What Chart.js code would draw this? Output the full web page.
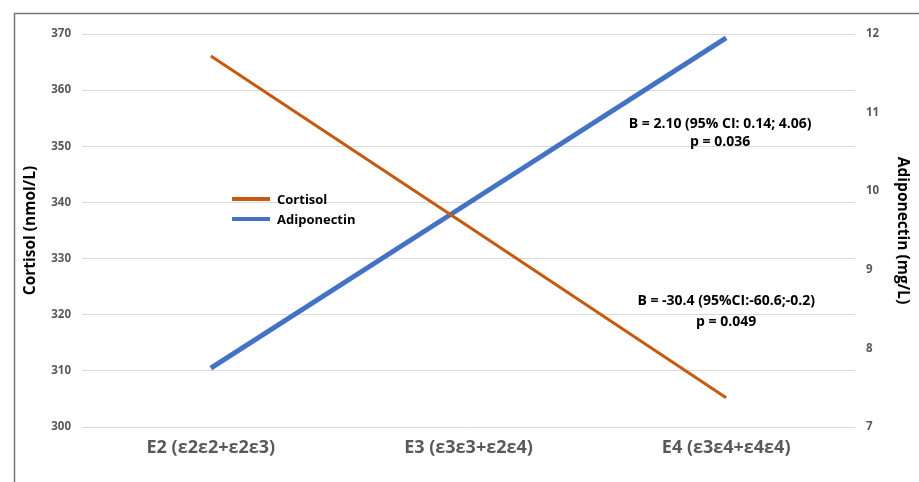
<!DOCTYPE html>
<html>
<head>
<meta charset="utf-8">
<script src="https://cdn.jsdelivr.net/npm/chart.js@4.4.1/dist/chart.umd.min.js"></script>
<style>
  html, body { margin: 0; padding: 0; background: #fff; }
  canvas { display: block; }
</style>
</head>
<body>
<canvas id="chart" width="919" height="482"></canvas>
<script>
const categories = ['E2 (ε2ε2+ε2ε3)', 'E3 (ε3ε3+ε2ε4)', 'E4 (ε3ε4+ε4ε4)'];
const cortisol = [366.1, 335.7, 305.2];
const adiponectin = [7.75, 9.85, 11.95];
const cortisolRange = [300, 370];
const adiponectinRange = [7, 12];
const adiponectinNote = ['B = 2.10 (95% CI: 0.14; 4.06)', 'p = 0.036'];
const cortisolNote = ['B = -30.4 (95%CI:-60.6;-0.2)', 'p = 0.049'];

const orange = '#C55A11';
const blue = '#4472C4';
const grey = '#595959';

// frame round the figure (left and top edges only)
const frame = {
  id: 'frame',
  beforeDraw(chart) {
    const c = chart.ctx;
    c.save();
    c.strokeStyle = '#767676';
    c.lineWidth = 1.5;
    c.beginPath();
    c.moveTo(14.5, 482);
    c.lineTo(14.5, 13.5);
    c.lineTo(919, 13.5);
    c.stroke();
    c.restore();
  }
};

// legend in the middle left + the two B/p notes
const notes = {
  id: 'notes',
  afterDraw(chart) {
    const c = chart.ctx;
    const x = chart.scales.x;
    const yL = chart.scales.y;
    c.save();
    c.font = 'bold 13px "Open Sans", sans-serif';
    c.textBaseline = 'middle';

    chart.data.datasets.forEach((ds, i) => {
      const ly = 199 + i * 20;
      c.strokeStyle = ds.borderColor;
      c.lineWidth = 4;
      c.beginPath();
      c.moveTo(232, ly);
      c.lineTo(270, ly);
      c.stroke();
      c.fillStyle = '#000';
      c.textAlign = 'left';
      c.fillText(ds.label, 277, ly + 1);
    });

    c.font = 'bold 14px "Open Sans", sans-serif';
    c.textAlign = 'center';
    c.fillStyle = '#000';
    const cx = x.getPixelForValue(2);
    c.fillText(adiponectinNote[0], cx - 6, yL.getPixelForValue(353.9));
    c.fillText(adiponectinNote[1], cx - 6, yL.getPixelForValue(350.7));
    c.fillText(cortisolNote[0], cx, yL.getPixelForValue(322.4));
    c.fillText(cortisolNote[1], cx, yL.getPixelForValue(318.7));
    c.restore();
  }
};

new Chart(document.getElementById('chart'), {
  type: 'line',
  data: {
    labels: categories,
    datasets: [
      {
        label: 'Cortisol',
        data: cortisol,
        yAxisID: 'y',
        borderColor: orange,
        borderWidth: 3,
        pointRadius: 0,
        tension: 0,
        fill: false
      },
      {
        label: 'Adiponectin',
        data: adiponectin,
        yAxisID: 'y1',
        borderColor: blue,
        borderWidth: 5,
        pointRadius: 0,
        tension: 0,
        fill: false
      }
    ]
  },
  options: {
    responsive: false,
    animation: false,
    layout: { padding: { top: 34, left: 0, right: 0, bottom: 0 } },
    plugins: {
      legend: { display: false },
      tooltip: { enabled: false }
    },
    scales: {
      x: {
        offset: true,
        grid: { display: false, drawTicks: false },
        border: { display: false },
        ticks: {
          padding: 10,
          color: grey,
          font: { family: '"Open Sans", sans-serif', size: 18, weight: 'bold' }
        },
        afterFit(s) { s.height = 55; }
      },
      y: {
        position: 'left',
        min: cortisolRange[0],
        max: cortisolRange[1],
        grid: { color: '#d9d9d9', lineWidth: 1, drawTicks: false },
        border: { display: false },
        ticks: {
          stepSize: 10,
          padding: 11,
          color: grey,
          font: { family: '"Open Sans", sans-serif', size: 11.5, weight: 'bold' }
        },
        title: {
          display: true,
          text: 'Cortisol (nmol/L)',
          color: '#000',
          padding: { top: 21, bottom: 0 },
          font: { family: '"Open Sans", sans-serif', size: 15.5, weight: 'bold' }
        },
        afterFit(s) { s.width = 82; }
      },
      y1: {
        position: 'right',
        min: adiponectinRange[0],
        max: adiponectinRange[1],
        grid: { display: false, drawTicks: false },
        border: { display: false },
        ticks: {
          stepSize: 1,
          padding: 11,
          color: grey,
          font: { family: '"Open Sans", sans-serif', size: 11.5, weight: 'bold' }
        },
        title: {
          display: true,
          text: 'Adiponectin (mg/L)',
          color: '#000',
          padding: { top: 7, bottom: 0 },
          font: { family: '"Open Sans", sans-serif', size: 15.5, weight: 'bold' }
        },
        afterFit(s) { s.width = 64; }
      }
    }
  },
  plugins: [frame, notes]
});
</script>
</body>
</html>
